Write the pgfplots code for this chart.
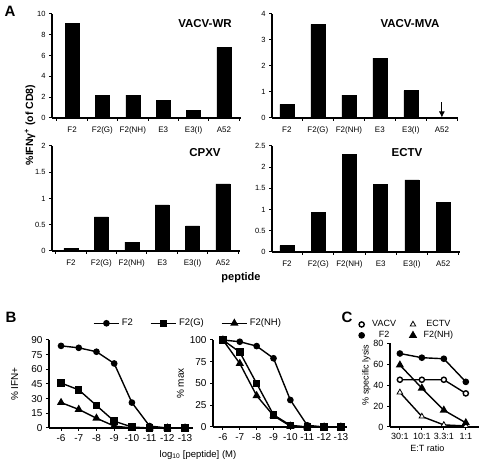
\documentclass[border=0pt]{standalone}
\usepackage{fontspec}
\setmainfont{Liberation Sans}
\usepackage{pgfplots}
\pgfplotsset{compat=1.18}
\usetikzlibrary{arrows.meta}
\pgfplotsset{
 prism/.style={
   scale only axis, anchor=south west, clip=false,
   axis lines=left, axis line style={-, line width=1.2pt},
   tick align=outside, major tick length=3pt, minor tick length=3pt,
   every tick/.style={black, line width=1pt},
   /pgf/number format/assume math mode=true,
   tick label style={font=\fontsize{8}{9}\selectfont},
 },
 barA/.style={prism, ybar, bar width=14pt,
   xtick={0,...,5}, xticklabels={F2,F2(G),F2(NH),E3,E3(I),A52},
   major x tick style={draw=none}, minor xtick={-0.5,0.5,...,5.5},
   ymin=0,
   xticklabel style={yshift=-2pt},
   yticklabel style={font=\fontsize{7.5}{8}\selectfont},
 },
 curveB/.style={prism, axis line style={-, line width=1.6pt},
   xtick={6,...,13}, xticklabels={-6,-7,-8,-9,-10,-11,-12,-13},
   tick label style={font=\fontsize{10}{11}\selectfont},
   ymin=0,
 },
}
\tikzset{
 ln/.style={black, line width=1.4pt},
}
\begin{document}
\begin{tikzpicture}
\useasboundingbox (0,0) rectangle (480pt,-465pt);
% ---------------- Panel A ----------------
\node[font=\bfseries\fontsize{15}{16}\selectfont] at (10pt,-11pt) {A};
\begin{axis}[barA, at={(52pt,-118pt)}, width=189pt, height=104pt,
  xmin=-0.66, xmax=5.56, ymax=10, ytick={0,2,...,10}]
\addplot[fill=black, draw=black] coordinates {(0,9.1) (1,2.2) (2,2.2) (3,1.7) (4,0.75) (5,6.8)};
\end{axis}
\node[font=\bfseries\fontsize{11.5}{12}\selectfont] at (205pt,-24pt) {VACV-WR};

\begin{axis}[barA, at={(272pt,-118pt)}, width=186pt, height=104pt,
  xmin=-0.48, xmax=5.52, ymax=4, ytick={0,1,...,4}]
\addplot[fill=black, draw=black] coordinates {(0,0.52) (1,3.6) (2,0.88) (3,2.3) (4,1.05) (5,0)};
\draw[black, line width=0.8pt, -{Latex[length=6pt,width=6pt]}] (axis cs:5,0.6) -- (axis cs:5,0.02);
\end{axis}
\node[font=\bfseries\fontsize{11.5}{12}\selectfont] at (410pt,-24pt) {VACV-MVA};

\begin{axis}[barA, at={(52pt,-251pt)}, width=188pt, height=105pt,
  xmin=-0.625, xmax=5.56, ymax=2, ytick={0,0.5,1,1.5,2},
  yticklabels={0,0.5,1,1.5,2}]
\addplot[fill=black, draw=black] coordinates {(0,0.05) (1,0.65) (2,0.17) (3,0.88) (4,0.48) (5,1.28)};
\end{axis}
\node[font=\bfseries\fontsize{11.5}{12}\selectfont] at (205pt,-153pt) {CPXV};

\begin{axis}[barA, at={(272pt,-252pt)}, width=188pt, height=106pt,
  xmin=-0.48, xmax=5.54, ymax=2.5, ytick={0,0.5,1,1.5,2,2.5},
  yticklabels={0,0.5,1,1.5,2,2.5}]
\addplot[fill=black, draw=black] coordinates {(0,0.15) (1,0.93) (2,2.3) (3,1.6) (4,1.7) (5,1.17)};
\end{axis}
\node[font=\bfseries\fontsize{11.5}{12}\selectfont] at (407pt,-153pt) {ECTV};

\node[rotate=90, font=\bfseries\fontsize{10.5}{11}\selectfont] at (30pt,-125pt) {\%IFNγ\textsuperscript{+} (of CD8)};
\node[font=\bfseries\fontsize{11}{12}\selectfont] at (241pt,-278pt) {peptide};

% ---------------- Panel B ----------------
\node[font=\bfseries\fontsize{15}{16}\selectfont] at (11pt,-317pt) {B};
\begin{axis}[curveB, at={(49pt,-428pt)}, width=144pt, height=88pt,
  xmin=5.32, xmax=13.45, ymax=90, ytick={0,15,...,90},
  ylabel={\% IFN+}, ylabel style={font=\fontsize{10}{11}\selectfont, at={(axis description cs:-0.19,0.5)}},
  legend columns=3,
  legend style={draw=none, fill=none, at={(axis description cs:0.965,1.19)}, anchor=center,
    font=\fontsize{9.5}{10}\selectfont, /tikz/every even column/.append style={column sep=15pt}},
  legend image code/.code={\draw[mark repeat=2,mark phase=2,#1] plot coordinates {(0cm,0cm) (0.45cm,0cm) (0.9cm,0cm)};}]
\addplot[ln, mark=*, mark size=2.6pt] coordinates {(6,84) (7,82) (8,78) (9,66) (10,26) (11,2) (12,0) (13,0)};
\addplot[ln, mark=square*, mark size=3pt] coordinates {(6,46) (7,39) (8,23) (9,7) (10,1) (11,0) (12,0) (13,0)};
\addplot[ln, mark=triangle*, mark size=3.4pt] coordinates {(6,26) (7,19) (8,10) (9,2) (10,0) (11,0) (12,0) (13,0)};
\legend{F2,F2(G),F2(NH)}
\end{axis}

\begin{axis}[curveB, at={(213pt,-427pt)}, width=134pt, height=87pt,
  xmin=5.41, xmax=13.36, ymax=100, ytick={0,25,...,100},
  ylabel={\% max}, ylabel style={font=\fontsize{10}{11}\selectfont, at={(axis description cs:-0.19,0.5)}}]
\addplot[ln, mark=*, mark size=2.6pt] coordinates {(6,100) (7,98) (8,93) (9,79) (10,31) (11,2) (12,0) (13,0)};
\addplot[ln, mark=square*, mark size=3pt] coordinates {(6,100) (7,86) (8,50) (9,14) (10,2) (11,0) (12,0) (13,0)};
\addplot[ln, mark=triangle*, mark size=3.4pt] coordinates {(6,100) (7,73) (8,36) (9,13) (10,1) (11,0) (12,0) (13,0)};
\end{axis}
\node[font=\fontsize{9.5}{10}\selectfont] at (198pt,-455pt) {log\textsubscript{10} [peptide] (M)};

% ---------------- Panel C ----------------
\node[font=\bfseries\fontsize{15}{16}\selectfont] at (347pt,-317pt) {C};
\begin{axis}[prism, at={(390pt,-427pt)}, width=89pt, height=84pt,
  axis line style={-, line width=1.6pt},
  xmin=-0.45, xmax=3.6, ymin=0, ymax=80, ytick={0,20,...,80},
  xtick={0,...,3}, xticklabels={30:1,10:1,3.3:1,1:1},
  tick label style={font=\fontsize{9}{10}\selectfont},
  xlabel={E:T ratio}, xlabel style={font=\fontsize{9}{10}\selectfont, at={(axis description cs:0.42,-0.17)}, anchor=north},
  ylabel={\% specific lysis}, ylabel style={font=\fontsize{9}{10}\selectfont, at={(axis description cs:-0.18,0.62)}},
  legend columns=2,
  legend style={draw=none, fill=none, at={(axis description cs:0.19,1.155)}, anchor=center,
    font=\fontsize{9}{10}\selectfont, row sep=-1pt, /tikz/every even column/.append style={column sep=12pt}},
  legend image code/.code={\draw[#1] plot coordinates {(0.1cm,0cm)}; \path[draw=none] (0cm,0cm) -- (0.4cm,0cm);}]
\addplot[ln, mark=*, mark size=2.6pt, mark options={fill=white}] coordinates {(0,45) (1,45) (2,45) (3,32)};
\addplot[ln, mark=triangle*, mark size=3.2pt, mark options={fill=white, line width=0.8pt}] coordinates {(0,33) (1,10) (2,2) (3,1)};
\addplot[ln, mark=*, mark size=2.6pt] coordinates {(0,70) (1,66) (2,65) (3,43)};
\addplot[ln, mark=triangle*, mark size=3.4pt] coordinates {(0,59) (1,37) (2,16) (3,4)};
\legend{VACV,ECTV,F2,F2(NH)}
\end{axis}
\end{tikzpicture}
\end{document}
